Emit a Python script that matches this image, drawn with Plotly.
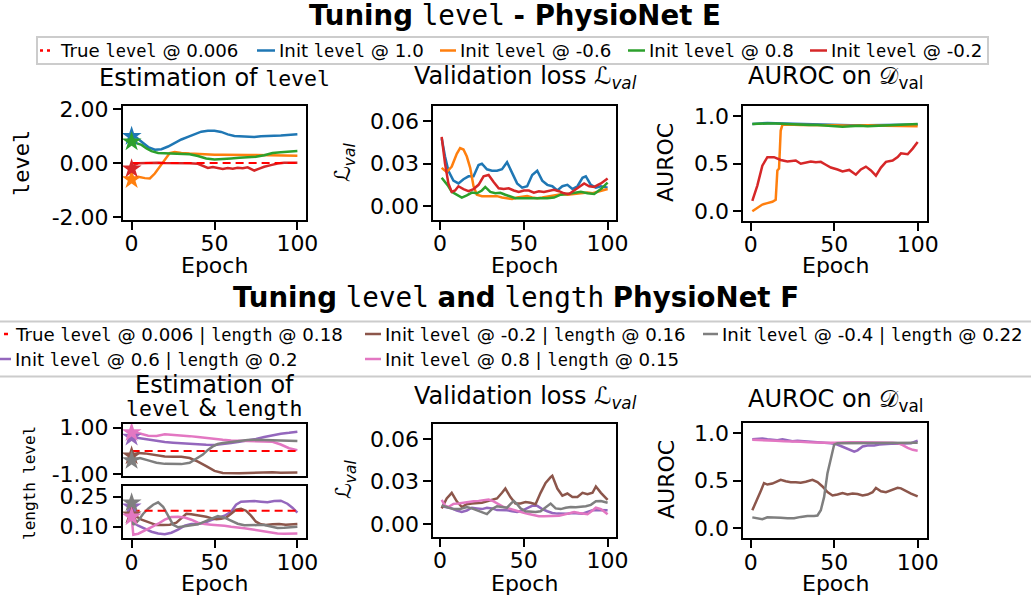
import plotly.graph_objects as go

W, H = 1031, 602

# ------------------------------------------------------------------ data: PhysioNet E (tuning level)
E_TRUE_LEVEL = 0.006
E_INIT_LEVEL = [1.0, -0.6, 0.8, -0.2]          # blue, orange, green, red
EPOCH_SPAN = [0, 100]

e_lvl_blue_x = [0, 3, 6, 10, 14, 18, 22, 26, 30, 34, 38, 42, 46, 50, 54, 58, 62, 66, 70, 74, 78, 82, 86, 90, 94, 98, 100]
e_lvl_blue_y = [1.0, 0.95, 0.8, 0.6, 0.5, 0.52, 0.62, 0.76, 0.88, 0.98, 1.08, 1.17, 1.2, 1.2, 1.16, 1.07, 1.01, 1.0, 0.99, 0.97, 1.0, 1.02, 1.02, 1.03, 1.05, 1.06, 1.07]
e_lvl_orange_x = [0, 4, 8, 11, 14, 17, 20, 23, 26, 30, 35, 40, 45, 50, 55, 60, 65, 70, 75, 80, 85, 90, 95, 100]
e_lvl_orange_y = [-0.6, -0.5, -0.55, -0.56, -0.38, -0.12, 0.15, 0.38, 0.42, 0.38, 0.36, 0.34, 0.33, 0.32, 0.32, 0.31, 0.31, 0.31, 0.31, 0.3, 0.3, 0.29, 0.28, 0.28]
e_lvl_green_x = [0, 3, 6, 9, 12, 16, 20, 25, 30, 35, 40, 45, 50, 55, 60, 65, 70, 75, 80, 85, 90, 95, 100]
e_lvl_green_y = [0.8, 0.75, 0.68, 0.55, 0.45, 0.38, 0.37, 0.37, 0.36, 0.33, 0.27, 0.18, 0.14, 0.15, 0.18, 0.2, 0.21, 0.24, 0.3, 0.38, 0.41, 0.43, 0.45]
e_lvl_red_x = [0, 2, 4, 8, 12, 16, 20, 25, 30, 35, 40, 43, 46, 49, 52, 55, 58, 61, 64, 67, 70, 74, 77, 80, 84, 88, 92, 96, 100]
e_lvl_red_y = [-0.2, -0.05, 0.0, 0.01, 0.02, 0.02, 0.01, 0.01, 0.0, 0.0, -0.02, -0.1, -0.17, -0.14, -0.18, -0.21, -0.18, -0.2, -0.17, -0.18, -0.15, -0.27, -0.2, -0.13, -0.07, -0.01, 0.02, 0.02, 0.02]

e_loss_blue_x = [1, 3, 5, 8, 11, 14, 17, 20, 23, 25, 28, 31, 34, 37, 40, 43, 46, 49, 52, 55, 58, 61, 64, 67, 70, 73, 76, 79, 82, 85, 87, 90, 93, 96, 100]
e_loss_blue_y = [0.048, 0.035, 0.025, 0.018, 0.016, 0.019, 0.021, 0.021, 0.029, 0.030, 0.026, 0.025, 0.025, 0.026, 0.031, 0.024, 0.016, 0.013, 0.014, 0.022, 0.025, 0.018, 0.015, 0.014, 0.011, 0.014, 0.015, 0.012, 0.014, 0.020, 0.021, 0.015, 0.013, 0.014, 0.013]
e_loss_orange_x = [1, 4, 7, 10, 12, 14, 16, 18, 20, 22, 25, 28, 31, 34, 37, 40, 43, 46, 49, 52, 55, 58, 61, 64, 67, 70, 73, 76, 79, 82, 85, 88, 91, 94, 97, 100]
e_loss_orange_y = [0.027, 0.024, 0.028, 0.037, 0.041, 0.040, 0.035, 0.027, 0.014, 0.008, 0.007, 0.007, 0.0065, 0.007, 0.006, 0.0055, 0.005, 0.006, 0.0065, 0.007, 0.006, 0.0055, 0.006, 0.0065, 0.007, 0.008, 0.0085, 0.008, 0.0085, 0.009, 0.009, 0.0095, 0.009, 0.010, 0.011, 0.012]
e_loss_green_x = [1, 3, 5, 7, 10, 13, 16, 19, 22, 25, 27, 30, 33, 36, 39, 42, 45, 48, 52, 56, 60, 64, 68, 72, 76, 80, 84, 88, 92, 96, 100]
e_loss_green_y = [0.020, 0.017, 0.014, 0.010, 0.008, 0.006, 0.0075, 0.0095, 0.009, 0.011, 0.0135, 0.010, 0.009, 0.0094, 0.008, 0.007, 0.0055, 0.0055, 0.0055, 0.0055, 0.005, 0.0055, 0.006, 0.008, 0.0085, 0.009, 0.010, 0.009, 0.0085, 0.012, 0.0165]
e_loss_red_x = [1, 3, 5, 7, 9, 11, 14, 17, 20, 23, 26, 29, 32, 35, 38, 41, 44, 47, 50, 53, 56, 59, 62, 65, 68, 71, 74, 77, 80, 83, 86, 89, 92, 96, 100]
e_loss_red_y = [0.049, 0.030, 0.016, 0.010, 0.011, 0.014, 0.012, 0.0105, 0.012, 0.015, 0.021, 0.022, 0.017, 0.0125, 0.012, 0.0125, 0.011, 0.010, 0.011, 0.011, 0.0095, 0.0105, 0.010, 0.011, 0.0115, 0.0105, 0.009, 0.0085, 0.011, 0.014, 0.016, 0.014, 0.0135, 0.016, 0.0195]

e_auc_blue_x = [1, 10, 20, 30, 40, 50, 55, 60, 70, 80, 90, 100]
e_auc_blue_y = [0.92, 0.93, 0.925, 0.92, 0.915, 0.905, 0.91, 0.905, 0.905, 0.91, 0.915, 0.915]
e_auc_orange_x = [1, 4, 7, 10, 13, 15, 16, 17, 18, 19, 22, 30, 40, 50, 60, 70, 80, 90, 100]
e_auc_orange_y = [0.0, 0.04, 0.07, 0.085, 0.1, 0.12, 0.43, 0.45, 0.85, 0.91, 0.915, 0.91, 0.91, 0.905, 0.9, 0.905, 0.9, 0.9, 0.895]
e_auc_green_x = [1, 5, 10, 15, 20, 25, 30, 35, 40, 45, 50, 55, 60, 65, 70, 75, 80, 85, 90, 95, 100]
e_auc_green_y = [0.92, 0.925, 0.925, 0.925, 0.92, 0.915, 0.915, 0.91, 0.91, 0.905, 0.895, 0.89, 0.895, 0.9, 0.895, 0.9, 0.905, 0.91, 0.915, 0.915, 0.92]
e_auc_red_x = [1, 4, 7, 10, 14, 18, 22, 27, 30, 33, 36, 39, 42, 45, 48, 52, 55, 59, 63, 66, 69, 72, 75, 78, 81, 85, 88, 90, 94, 97, 100]
e_auc_red_y = [0.11, 0.27, 0.48, 0.57, 0.57, 0.54, 0.525, 0.535, 0.5, 0.51, 0.525, 0.515, 0.52, 0.49, 0.46, 0.44, 0.42, 0.435, 0.385, 0.44, 0.47, 0.43, 0.375, 0.46, 0.52, 0.535, 0.57, 0.61, 0.6, 0.66, 0.73]

# ------------------------------------------------------------------ data: PhysioNet F (tuning level and length)
F_TRUE_LEVEL = 0.006
F_TRUE_LENGTH = 0.18
F_INIT_LEVEL = [0.6, -0.2, 0.8, -0.4]           # purple, brown, pink, gray
F_INIT_LENGTH = [0.2, 0.16, 0.15, 0.22]

f_lvl_purple_x = [0, 5, 10, 15, 20, 25, 30, 35, 40, 45, 50, 55, 60, 65, 70, 75, 80, 85, 90, 95, 100]
f_lvl_purple_y = [0.6, 0.55, 0.48, 0.42, 0.39, 0.36, 0.33, 0.31, 0.29, 0.27, 0.26, 0.29, 0.34, 0.4, 0.45, 0.52, 0.6, 0.68, 0.74, 0.78, 0.83]
f_lvl_brown_x = [0, 4, 8, 12, 16, 20, 25, 30, 35, 40, 45, 50, 55, 60, 65, 70, 75, 80, 85, 90, 95, 100]
f_lvl_brown_y = [-0.2, -0.08, -0.1, -0.15, -0.2, -0.23, -0.24, -0.24, -0.3, -0.45, -0.65, -0.85, -0.94, -0.96, -0.95, -0.94, -0.92, -0.9, -0.91, -0.93, -0.92, -0.92]
f_lvl_pink_x = [0, 5, 10, 15, 20, 25, 30, 35, 40, 45, 50, 55, 60, 65, 70, 75, 80, 85, 90, 95, 100]
f_lvl_pink_y = [0.8, 0.75, 0.66, 0.65, 0.72, 0.7, 0.66, 0.64, 0.6, 0.55, 0.52, 0.48, 0.45, 0.44, 0.44, 0.44, 0.43, 0.4, 0.28, 0.12, 0.04]
f_lvl_gray_x = [0, 5, 10, 15, 20, 25, 30, 35, 40, 43, 46, 49, 52, 55, 60, 65, 70, 75, 80, 85, 90, 95, 100]
f_lvl_gray_y = [-0.4, -0.3, -0.4, -0.5, -0.55, -0.57, -0.56, -0.5, -0.3, -0.15, 0.05, 0.2, 0.3, 0.35, 0.39, 0.44, 0.47, 0.48, 0.48, 0.46, 0.45, 0.44, 0.43]

f_len_purple_x = [0, 1, 4, 8, 12, 16, 20, 24, 28, 32, 36, 40, 44, 48, 52, 56, 60, 63, 66, 70, 74, 78, 82, 86, 90, 94, 97, 100]
f_len_purple_y = [0.2, 0.12, 0.105, 0.09, 0.075, 0.066, 0.062, 0.07, 0.085, 0.105, 0.113, 0.114, 0.12, 0.133, 0.145, 0.155, 0.175, 0.21, 0.225, 0.228, 0.228, 0.225, 0.222, 0.228, 0.23, 0.215, 0.195, 0.17]
f_len_brown_x = [0, 3, 6, 9, 12, 15, 19, 23, 27, 30, 33, 36, 39, 42, 45, 48, 51, 54, 57, 60, 63, 66, 69, 72, 75, 78, 81, 85, 89, 93, 96, 100]
f_len_brown_y = [0.16, 0.15, 0.135, 0.125, 0.115, 0.108, 0.108, 0.11, 0.12, 0.145, 0.165, 0.162, 0.158, 0.155, 0.15, 0.143, 0.137, 0.14, 0.145, 0.165, 0.185, 0.19, 0.18, 0.155, 0.125, 0.112, 0.108, 0.112, 0.113, 0.11, 0.112, 0.113]
f_len_pink_x = [0, 1, 4, 8, 12, 16, 20, 24, 28, 32, 36, 40, 44, 48, 52, 56, 60, 64, 68, 72, 76, 80, 84, 88, 92, 96, 100]
f_len_pink_y = [0.15, 0.06, 0.065, 0.08, 0.098, 0.115, 0.135, 0.148, 0.15, 0.146, 0.135, 0.12, 0.113, 0.11, 0.108, 0.105, 0.1, 0.097, 0.092, 0.087, 0.082, 0.078, 0.073, 0.066, 0.065, 0.067, 0.066]
f_len_gray_x = [0, 1, 4, 7, 10, 13, 16, 19, 22, 25, 28, 31, 35, 40, 44, 48, 52, 56, 60, 64, 68, 72, 76, 80, 84, 88, 92, 96, 100]
f_len_gray_y = [0.22, 0.11, 0.13, 0.165, 0.19, 0.21, 0.222, 0.2, 0.155, 0.11, 0.097, 0.1, 0.105, 0.112, 0.125, 0.14, 0.153, 0.145, 0.128, 0.115, 0.107, 0.106, 0.108, 0.108, 0.102, 0.094, 0.095, 0.097, 0.1]

f_loss_purple_x = [1, 4, 7, 10, 13, 16, 19, 22, 25, 28, 31, 34, 37, 40, 43, 46, 49, 52, 55, 58, 61, 64, 67, 70, 73, 76, 79, 82, 85, 88, 91, 94, 97, 100]
f_loss_purple_y = [0.0125, 0.012, 0.011, 0.0095, 0.0085, 0.0095, 0.0115, 0.011, 0.0105, 0.0115, 0.011, 0.0098, 0.0097, 0.0097, 0.009, 0.0085, 0.0095, 0.011, 0.0128, 0.0128, 0.0105, 0.009, 0.0078, 0.0073, 0.007, 0.0072, 0.0078, 0.0075, 0.0072, 0.0085, 0.0097, 0.0098, 0.0097, 0.0097]
f_loss_brown_x = [1, 4, 7, 10, 13, 16, 19, 22, 25, 28, 31, 34, 37, 39, 42, 45, 48, 51, 54, 57, 60, 63, 66, 67, 70, 73, 76, 79, 82, 85, 88, 91, 93, 96, 100]
f_loss_brown_y = [0.011, 0.018, 0.022, 0.016, 0.012, 0.014, 0.0145, 0.0145, 0.015, 0.016, 0.017, 0.018, 0.022, 0.025, 0.019, 0.0145, 0.0145, 0.0155, 0.015, 0.014, 0.022, 0.029, 0.033, 0.034, 0.025, 0.020, 0.0215, 0.019, 0.019, 0.022, 0.021, 0.022, 0.0265, 0.022, 0.017]
f_loss_pink_x = [1, 3, 5, 8, 11, 14, 17, 20, 23, 26, 29, 32, 35, 38, 41, 44, 47, 50, 53, 56, 59, 62, 65, 68, 71, 74, 77, 80, 83, 86, 88, 91, 93, 96, 100]
f_loss_pink_y = [0.017, 0.013, 0.012, 0.0142, 0.0145, 0.015, 0.016, 0.016, 0.0163, 0.0165, 0.0172, 0.016, 0.014, 0.012, 0.011, 0.0098, 0.0087, 0.0078, 0.007, 0.0062, 0.0055, 0.0055, 0.0055, 0.0056, 0.0058, 0.0066, 0.0075, 0.0085, 0.0078, 0.007, 0.0069, 0.0095, 0.0115, 0.0105, 0.0068]
f_loss_gray_x = [1, 4, 8, 12, 16, 19, 22, 25, 28, 31, 34, 37, 40, 42, 44, 46, 48, 51, 54, 57, 60, 63, 66, 69, 72, 75, 78, 81, 84, 87, 90, 93, 96, 100]
f_loss_gray_y = [0.013, 0.012, 0.0105, 0.0105, 0.012, 0.011, 0.0095, 0.008, 0.007, 0.0105, 0.0125, 0.012, 0.0115, 0.014, 0.0163, 0.014, 0.011, 0.009, 0.0085, 0.0085, 0.009, 0.012, 0.0144, 0.011, 0.0105, 0.0115, 0.012, 0.0118, 0.012, 0.0125, 0.0135, 0.016, 0.0162, 0.015]

f_auc_purple_x = [1, 4, 7, 10, 13, 16, 19, 22, 25, 28, 31, 34, 37, 40, 44, 48, 51, 54, 57, 60, 62, 64, 67, 70, 74, 77, 80, 84, 88, 92, 96, 100]
f_auc_purple_y = [0.935, 0.94, 0.945, 0.935, 0.93, 0.925, 0.935, 0.925, 0.915, 0.92, 0.915, 0.91, 0.905, 0.9, 0.9, 0.895, 0.885, 0.865, 0.845, 0.82, 0.805, 0.82, 0.86, 0.87, 0.87, 0.88, 0.885, 0.89, 0.89, 0.895, 0.895, 0.92]
f_auc_brown_x = [1, 4, 6, 8, 10, 13, 16, 18, 21, 24, 27, 30, 33, 37, 40, 43, 46, 49, 52, 55, 58, 61, 64, 67, 70, 73, 75, 78, 81, 84, 88, 90, 93, 96, 100]
f_auc_brown_y = [0.19, 0.3, 0.39, 0.475, 0.46, 0.47, 0.49, 0.51, 0.495, 0.485, 0.485, 0.48, 0.49, 0.51, 0.485, 0.44, 0.38, 0.345, 0.355, 0.37, 0.355, 0.365, 0.36, 0.345, 0.355, 0.38, 0.425, 0.39, 0.38, 0.4, 0.425, 0.42, 0.39, 0.365, 0.335]
f_auc_pink_x = [1, 5, 10, 15, 20, 25, 30, 35, 40, 45, 50, 55, 60, 65, 70, 75, 80, 85, 88, 91, 94, 97, 100]
f_auc_pink_y = [0.93, 0.925, 0.925, 0.92, 0.915, 0.915, 0.91, 0.905, 0.9, 0.9, 0.9, 0.905, 0.905, 0.905, 0.905, 0.905, 0.9, 0.9, 0.895, 0.875, 0.845, 0.825, 0.815]
f_auc_gray_x = [1, 4, 7, 10, 14, 18, 22, 26, 30, 34, 38, 40, 42, 44, 46, 48, 50, 52, 56, 60, 65, 70, 75, 80, 85, 90, 95, 100]
f_auc_gray_y = [0.115, 0.105, 0.095, 0.115, 0.115, 0.11, 0.105, 0.105, 0.12, 0.13, 0.13, 0.135, 0.19, 0.33, 0.58, 0.74, 0.88, 0.895, 0.895, 0.9, 0.9, 0.9, 0.895, 0.9, 0.9, 0.9, 0.895, 0.9]

# legend / title texts
TITLE_E = ["Tuning", "level", "- PhysioNet E"]
TITLE_F = ["Tuning", "level", "and", "length", "PhysioNet F"]
LEG_E = ["True level @ 0.006", "Init level @ 1.0", "Init level @ -0.6", "Init level @ 0.8", "Init level @ -0.2"]
LEG_F = ["True level @ 0.006 | length @ 0.18", "Init level @ -0.2 | length @ 0.16",
         "Init level @ -0.4 | length @ 0.22", "Init level @ 0.6 | length @ 0.2",
         "Init level @ 0.8 | length @ 0.15"]

# ------------------------------------------------------------------ styles
BLUE, ORANGE, GREEN, RED = "#1f77b4", "#ff7f0e", "#2ca02c", "#d62728"
PURPLE, BROWN, PINK, GRAY = "#9467bd", "#8c564b", "#e377c2", "#7f7f7f"
TRUE_C = "#ff0000"
MONO = "DejaVu Sans Mono"
SANS = "DejaVu Sans"
LW = 2.5


def mono(t, size=None):
    st = "font-family:%s" % MONO
    if size:
        st += ";font-size:%spx" % size
    for w in ("level", "length"):
        t = t.replace(w, "<span style='%s'>%s</span>" % (st, w))
    return t


def xp(px):
    return px / W


def yp(py):
    return 1 - py / H


fig = go.Figure()

# axis geometry in pixels: (left, right, top, bottom)
AX = {
    1: (123, 306, 106, 220),
    2: (433.3, 616, 106, 220),
    3: (743.3, 926.7, 106, 220.7),
    4: (123, 306, 424, 476),
    5: (123, 306, 486, 538.3),
    6: (433.3, 616, 424, 536.7),
    7: (743.3, 926.7, 422.7, 538.3),
}
XR = {1: [-5.2, 105.2], 2: [-4.0, 105.0], 3: [-4.4, 105.4], 4: [-5.2, 105.2],
      5: [-5.2, 105.2], 6: [-4.0, 105.0], 7: [-4.4, 105.4]}
YR = {1: [-2.1, 2.12], 2: [-0.0099, 0.0708], 3: [-0.1, 1.109], 4: [-1.07, 1.16],
      5: [0.042, 0.3035], 6: [-0.009, 0.0706], 7: [-0.105, 1.11]}
YT = {1: ([-2, 0, 2], ["-2.00", "0.00", "2.00"]),
      2: ([0, 0.03, 0.06], ["0.00", "0.03", "0.06"]),
      3: ([0, 0.5, 1], ["0.0", "0.5", "1.0"]),
      4: ([-1, 1], ["-1.00", "1.00"]),
      5: ([0.10, 0.25], ["0.10", "0.25"]),
      6: ([0, 0.03, 0.06], ["0.00", "0.03", "0.06"]),
      7: ([0, 0.5, 1], ["0.0", "0.5", "1.0"])}

TICKF = dict(family=SANS, size=22, color="black")
for i, (l, r, t, b) in AX.items():
    sfx = "" if i == 1 else str(i)
    xa = dict(domain=[xp(l), xp(r)], range=XR[i], anchor="y" + sfx, automargin=False,
              showline=True, mirror=True, linecolor="black", linewidth=2,
              showgrid=False, zeroline=False, ticks="outside", ticklen=8, tickwidth=2,
              tickcolor="black", tickvals=[0, 50, 100], ticktext=["0", "50", "100"],
              tickfont=TICKF, ticklabelstandoff=-5)
    if i == 4:
        xa.update(ticks="", showticklabels=False)
    ya = dict(domain=[yp(b), yp(t)], range=YR[i], anchor="x" + sfx, automargin=False,
              showline=True, mirror=True, linecolor="black", linewidth=2,
              showgrid=False, zeroline=False, ticks="outside", ticklen=8, tickwidth=2,
              tickcolor="black", tickvals=YT[i][0], ticktext=YT[i][1], tickfont=TICKF)
    fig.update_layout(**{"xaxis" + sfx: xa, "yaxis" + sfx: ya})


def line(x, y, color, ax, width=LW, dash=None):
    sfx = "" if ax == 1 else str(ax)
    fig.add_trace(go.Scatter(x=x, y=y, mode="lines", showlegend=False, hoverinfo="skip",
                             line=dict(color=color, width=width, dash=dash),
                             xaxis="x" + sfx, yaxis="y" + sfx))


def star(x, y, color, ax):
    sfx = "" if ax == 1 else str(ax)
    fig.add_trace(go.Scatter(x=[x], y=[y], mode="markers", showlegend=False, hoverinfo="skip",
                             marker=dict(symbol="star", size=15, color=color, line=dict(width=0)),
                             xaxis="x" + sfx, yaxis="y" + sfx))


E_COLS = [BLUE, ORANGE, GREEN, RED]
F_COLS = [PURPLE, BROWN, PINK, GRAY]

# --- PhysioNet E
for (x, y), c in zip([(e_lvl_blue_x, e_lvl_blue_y), (e_lvl_orange_x, e_lvl_orange_y),
                      (e_lvl_green_x, e_lvl_green_y), (e_lvl_red_x, e_lvl_red_y)], E_COLS):
    line(x, y, c, 1)
line(EPOCH_SPAN, [E_TRUE_LEVEL] * 2, TRUE_C, 1, width=2, dash="8px,5px")
for v, c in zip(E_INIT_LEVEL, E_COLS):
    star(0, v, c, 1)

for (x, y), c in zip([(e_loss_blue_x, e_loss_blue_y), (e_loss_orange_x, e_loss_orange_y),
                      (e_loss_green_x, e_loss_green_y), (e_loss_red_x, e_loss_red_y)], E_COLS):
    line(x, y, c, 2)
for (x, y), c in zip([(e_auc_blue_x, e_auc_blue_y), (e_auc_orange_x, e_auc_orange_y),
                      (e_auc_green_x, e_auc_green_y), (e_auc_red_x, e_auc_red_y)], E_COLS):
    line(x, y, c, 3)

# --- PhysioNet F
for (x, y), c in zip([(f_lvl_purple_x, f_lvl_purple_y), (f_lvl_brown_x, f_lvl_brown_y),
                      (f_lvl_pink_x, f_lvl_pink_y), (f_lvl_gray_x, f_lvl_gray_y)], F_COLS):
    line(x, y, c, 4)
line(EPOCH_SPAN, [F_TRUE_LEVEL] * 2, TRUE_C, 4, width=2, dash="8px,5px")
for v, c in zip(F_INIT_LEVEL, F_COLS):
    star(0, v, c, 4)

for (x, y), c in zip([(f_len_purple_x, f_len_purple_y), (f_len_brown_x, f_len_brown_y),
                      (f_len_pink_x, f_len_pink_y), (f_len_gray_x, f_len_gray_y)], F_COLS):
    line(x, y, c, 5)
line(EPOCH_SPAN, [F_TRUE_LENGTH] * 2, TRUE_C, 5, width=2, dash="8px,5px")
for v, c in zip(F_INIT_LENGTH, F_COLS):
    star(0, v, c, 5)

for (x, y), c in zip([(f_loss_purple_x, f_loss_purple_y), (f_loss_brown_x, f_loss_brown_y),
                      (f_loss_pink_x, f_loss_pink_y), (f_loss_gray_x, f_loss_gray_y)], F_COLS):
    line(x, y, c, 6)
for (x, y), c in zip([(f_auc_purple_x, f_auc_purple_y), (f_auc_brown_x, f_auc_brown_y),
                      (f_auc_pink_x, f_auc_pink_y), (f_auc_gray_x, f_auc_gray_y)], F_COLS):
    line(x, y, c, 7)

# ------------------------------------------------------------------ texts
ann = []


def text(px, py, t, size, angle=0, xanchor="center", family=SANS):
    ann.append(dict(x=xp(px), y=yp(py), xref="paper", yref="paper", text=t, showarrow=False,
                    xanchor=xanchor, yanchor="middle", textangle=angle,
                    font=dict(family=family, size=size, color="black")))


title_e = "<b>%s</b> <span style='font-family:%s'>%s</span> <b>%s</b>" % (TITLE_E[0], MONO, TITLE_E[1], TITLE_E[2])
title_f = "<b>%s</b> <span style='font-family:%s'>%s</span> <b>%s</b> <span style='font-family:%s'>%s</span> <b>%s</b>" % (
    TITLE_F[0], MONO, TITLE_F[1], TITLE_F[2], MONO, TITLE_F[3], TITLE_F[4])
text(515, 16, title_e, 27.6)
text(516, 297, title_f, 27.6)

SUBT = 24
SUBM = 21.5
text(214, 78, mono("Estimation of level", SUBM), SUBT)
text(525, 78, "Validation loss ℒ<sub><i>val</i></sub>", SUBT)
text(835, 78, "AUROC on 𝒟<sub>val</sub>", SUBT)
text(214, 385, "Estimation of", SUBT)
text(214, 408, mono("level & length", SUBM), SUBT)
text(525, 397, "Validation loss ℒ<sub><i>val</i></sub>", SUBT)
text(835, 400, "AUROC on 𝒟<sub>val</sub>", SUBT)

# x-axis titles
for cx in (214.5, 524.7, 835):
    text(cx, 265, "Epoch", 22)
    text(cx, 583, "Epoch", 22)

# y-axis titles
text(22, 163, "level", 22, angle=-90, family=MONO)
text(345, 163, "ℒ<sub><i>val</i></sub>", 22, angle=-90)
text(666, 163, "AUROC", 22, angle=-90)
text(29, 450, "level", 16, angle=-90, family=MONO)
text(29, 511, "length", 16, angle=-90, family=MONO)
text(345, 480, "ℒ<sub><i>val</i></sub>", 22, angle=-90)
text(666, 480, "AUROC", 22, angle=-90)

# ------------------------------------------------------------------ legends (drawn as shapes + text)
shapes = []


def seg(x0, x1, py, color, dash=None, width=2.5):
    shapes.append(dict(type="line", xref="paper", yref="paper", x0=xp(x0), x1=xp(x1),
                       y0=yp(py), y1=yp(py), line=dict(color=color, width=width, dash=dash)))


def box(x0, x1, y0, y1):
    shapes.append(dict(type="rect", xref="paper", yref="paper", x0=xp(x0), x1=xp(x1),
                       y0=yp(y1), y1=yp(y0), line=dict(color="#cccccc", width=2),
                       fillcolor="rgba(255,255,255,0.8)", layer="below"))


LEGF = 18.2
LEGM = 17
box(37, 988, 37, 64)
leg1_pos = [(40, 50, 58), (257, 275, 277), (440, 456, 458), (628, 645, 647), (810, 827, 829)]
for k, (lab, (m0, m1, tx)) in enumerate(zip(LEG_E, leg1_pos)):
    if k == 0:
        seg(m0, m1, 50.5, TRUE_C, dash="3px,4px")
    else:
        seg(m0, m1, 50.5, E_COLS[k - 1])
    text(tx, 50.5, mono(lab, LEGM), LEGF, xanchor="left")

box(-5, 1036, 321.5, 376.5)
leg2_pos = [(4, 8, 13, 334), (365, 381, 383, 334), (703, 718, 720, 334), (0, 11, 13, 359), (365, 381, 383, 359)]
leg2_cols = [TRUE_C, BROWN, GRAY, PURPLE, PINK]
for lab, (m0, m1, tx, py), c in zip(LEG_F, leg2_pos, leg2_cols):
    seg(m0, m1, py, c)
    text(tx, py, mono(lab, LEGM), LEGF, xanchor="left")

fig.update_layout(width=W, height=H, margin=dict(l=0, r=0, t=0, b=0, autoexpand=False),
                  paper_bgcolor="white", plot_bgcolor="white",
                  font=dict(family=SANS, color="black"),
                  showlegend=False, annotations=ann, shapes=shapes)

fig.write_html("out.html")
